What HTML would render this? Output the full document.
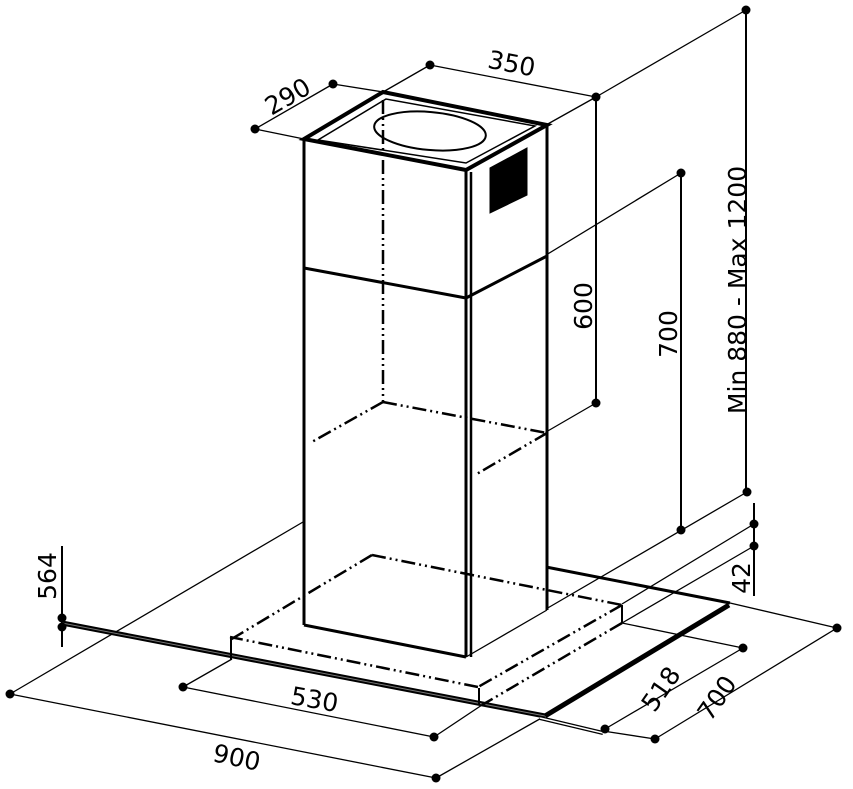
<!DOCTYPE html>
<html><head><style>
html,body{margin:0;padding:0;background:#fff;}
svg{display:block}
text{font-family:"DejaVu Sans","Liberation Sans",sans-serif;font-size:25px;fill:#000}
</style></head><body>
<svg width="853" height="789" viewBox="0 0 853 789" xmlns="http://www.w3.org/2000/svg">
<g stroke="#000" fill="none" stroke-linecap="butt">
<g stroke-width="1.3">
<line x1="255" y1="129" x2="333" y2="84"/>
<line x1="255" y1="129" x2="304" y2="139"/>
<line x1="333" y1="84" x2="383" y2="92"/>
<line x1="430" y1="65" x2="596" y2="97"/>
<line x1="430" y1="65" x2="383" y2="92"/>
<line x1="596" y1="97" x2="546" y2="125"/>
<line x1="746" y1="10" x2="596" y2="97"/>
<line x1="681" y1="173" x2="546" y2="255"/>
<line x1="596" y1="403" x2="546" y2="432"/>
<line x1="747" y1="492" x2="546" y2="609"/>
<line x1="754" y1="524" x2="622" y2="604"/>
<line x1="754" y1="546" x2="622" y2="623"/>
<line x1="622" y1="623" x2="743" y2="648"/>
<line x1="605" y1="729" x2="743" y2="648"/>
<line x1="730" y1="603" x2="837" y2="628"/>
<line x1="655" y1="739" x2="837" y2="628"/>
<line x1="655" y1="739" x2="603" y2="731"/>
<line x1="10" y1="694" x2="303" y2="522"/>
<line x1="10" y1="694" x2="436" y2="778"/>
<line x1="436" y1="778" x2="545" y2="716"/>
<line x1="183" y1="687" x2="232" y2="659"/>
<line x1="183" y1="687" x2="434" y2="737"/>
<line x1="434" y1="737" x2="482" y2="705"/>
<line x1="466" y1="657" x2="547" y2="610"/>
</g>
<g stroke-width="2">
<line x1="596" y1="97" x2="596" y2="403"/>
<line x1="681" y1="173" x2="681" y2="530"/>
<line x1="746" y1="10" x2="746" y2="492"/>
<line x1="754" y1="503" x2="754" y2="596"/>
<line x1="62" y1="546" x2="62" y2="647"/>
</g>
<g stroke-width="3">
<line x1="304" y1="139" x2="304" y2="625"/>
<line x1="304" y1="625" x2="466" y2="657"/>
<line x1="466" y1="170" x2="466" y2="657"/>
<line x1="547" y1="125" x2="547" y2="610"/>
<line x1="304" y1="268" x2="466" y2="298"/>
<line x1="466" y1="298" x2="547" y2="256"/>
<polygon points="383,92 304,139 466,170 547,125" stroke-width="4"/>
<polygon points="386,99 318,140 466,163 535,126" stroke-width="1.5"/>
<line x1="546" y1="567" x2="730" y2="603"/>
</g>
<line x1="471" y1="172" x2="471" y2="657" stroke-width="2.5"/>
<ellipse cx="430" cy="131" rx="56" ry="19" transform="rotate(5 430 131)" stroke-width="2"/>
<polygon points="490,168 527,148 527,195 490,213" fill="#000" stroke-width="1"/>
<line x1="62" y1="623" x2="545" y2="716" stroke-width="5"/>
<line x1="62" y1="623" x2="545" y2="716" stroke-width="1" stroke="#777"/>
<line x1="545" y1="716" x2="729" y2="605" stroke-width="5"/>
<polyline points="540,718 603,733" stroke-width="4"/>
<polyline points="540,718 603,733" stroke-width="1.5" stroke="#fff"/>
<g stroke-width="2.5" stroke-dasharray="14 4 2 4 2 4">
<line x1="383" y1="100" x2="383" y2="402"/>
<line x1="383" y1="402" x2="310" y2="443"/>
<line x1="383" y1="402" x2="547" y2="433"/>
<line x1="547" y1="433" x2="475" y2="475"/>
<line x1="372" y1="555" x2="230" y2="640"/>
<line x1="372" y1="555" x2="622" y2="605"/>
<line x1="622" y1="605" x2="478" y2="687"/>
<line x1="478" y1="687" x2="230" y2="637"/>
<line x1="622" y1="623" x2="482" y2="705"/>
</g>
<g stroke-width="2">
<line x1="231" y1="638" x2="231" y2="660"/>
<line x1="479" y1="688" x2="479" y2="705"/>
<line x1="622" y1="605" x2="622" y2="623"/>
</g>
</g>
<g fill="#000">
<circle cx="255" cy="129" r="4.5"/><circle cx="333" cy="84" r="4.5"/>
<circle cx="430" cy="65" r="4.5"/><circle cx="596" cy="97" r="4.5"/>
<circle cx="746" cy="10" r="4.5"/><circle cx="681" cy="173" r="4.5"/>
<circle cx="596" cy="403" r="4.5"/><circle cx="681" cy="530" r="4.5"/>
<circle cx="747" cy="492" r="4.5"/><circle cx="754" cy="524" r="4.5"/>
<circle cx="754" cy="546" r="4.5"/><circle cx="62" cy="618" r="4.5"/>
<circle cx="62" cy="627" r="4.5"/><circle cx="10" cy="694" r="4.5"/>
<circle cx="436" cy="778" r="4.5"/><circle cx="183" cy="687" r="4.5"/>
<circle cx="434" cy="737" r="4.5"/><circle cx="605" cy="729" r="4.5"/>
<circle cx="743" cy="648" r="4.5"/><circle cx="655" cy="739" r="4.5"/>
<circle cx="837" cy="628" r="4.5"/>
</g>
<text transform="translate(292,104) rotate(-30)" text-anchor="middle">290</text>
<text transform="translate(510,72) rotate(11)" text-anchor="middle">350</text>
<text transform="translate(592,306) rotate(-90)" text-anchor="middle">600</text>
<text transform="translate(677,334) rotate(-90)" text-anchor="middle">700</text>
<text transform="translate(746,290) rotate(-90)" text-anchor="middle">Min  880 - Max 1200</text>
<text transform="translate(56,576) rotate(-90)" text-anchor="middle">564</text>
<text transform="translate(750,578) rotate(-90)" text-anchor="middle">42</text>
<text transform="translate(313,708) rotate(10)" text-anchor="middle">530</text>
<text transform="translate(235,766) rotate(12)" text-anchor="middle">900</text>
<text transform="translate(668,694) rotate(-55)" text-anchor="middle">518</text>
<text transform="translate(724,703) rotate(-55)" text-anchor="middle">700</text>
</svg>
</body></html>
